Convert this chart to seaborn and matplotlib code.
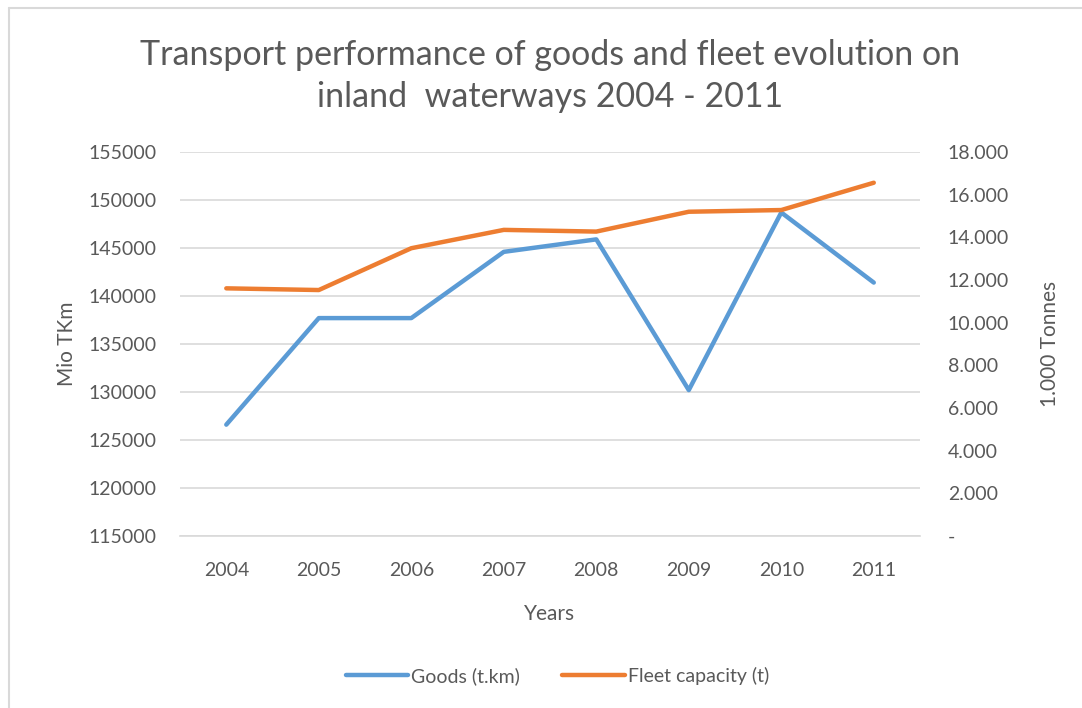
import matplotlib
matplotlib.use("Agg")
import matplotlib.pyplot as plt
from matplotlib.lines import Line2D
from matplotlib.ticker import FixedLocator, FuncFormatter
import seaborn as sns
import pandas as pd

years = ["2004", "2005", "2006", "2007", "2008", "2009", "2010", "2011"]
goods_tkm = [126600, 137700, 137700, 144600, 145900, 130200, 148700, 141400]
fleet_capacity = [11610, 11530, 13490, 14350, 14270, 15200, 15280, 16560]

left_ticks = [115000, 120000, 125000, 130000, 135000, 140000, 145000, 150000, 155000]
right_ticks = [0, 2000, 4000, 6000, 8000, 10000, 12000, 14000, 16000, 18000]

title_text = "Transport performance of goods and fleet evolution on\ninland  waterways 2004 - 2011"
left_label = "Mio TKm"
right_label = "1.000 Tonnes"
x_label = "Years"
goods_name = "Goods (t.km)"
fleet_name = "Fleet capacity (t)"

BLUE = "#5B9BD5"
ORANGE = "#ED7D31"
TEXT = "#595959"
GRID = "#D9D9D9"

sns.set_theme(style="white")
plt.rcParams["font.family"] = ["Lato", "DejaVu Sans"]

df = pd.DataFrame({"year": years, "goods": goods_tkm, "fleet": fleet_capacity})
df["pos"] = range(len(years))

fig = plt.figure(figsize=(10.82, 7.08), dpi=100)
ax = fig.add_axes([0.1664, 0.2429, 0.6839, 0.5424])
ax2 = ax.twinx()

sns.lineplot(data=df, x="pos", y="goods", ax=ax, color=BLUE, linewidth=3.2,
             legend=False, zorder=3)
sns.lineplot(data=df, x="pos", y="fleet", ax=ax2, color=ORANGE, linewidth=3.2,
             legend=False, zorder=3)

ax.set_xlim(-0.5, len(years) - 0.5)
ax.set_ylim(left_ticks[0], left_ticks[-1])
ax2.set_ylim(right_ticks[0], right_ticks[-1])

# category labels centred, tick marks on category boundaries
ax.set_xticks(list(range(len(years))))
ax.set_xticklabels(years)
ax.xaxis.set_minor_locator(FixedLocator([i - 0.5 for i in range(len(years) + 1)]))
ax.tick_params(axis="x", which="major", length=0, pad=19, labelsize=14, labelcolor=TEXT)
ax.tick_params(axis="x", which="minor", length=8, width=1, color=GRID, direction="out")

ax.set_yticks(left_ticks)
ax.tick_params(axis="y", length=0, pad=17, labelsize=14, labelcolor=TEXT)
ax.yaxis.grid(True, color=GRID, linewidth=1.2)
ax.set_axisbelow(True)

ax2.set_yticks(right_ticks)
ax2.yaxis.set_major_formatter(FuncFormatter(
    lambda v, p: "-" if v == 0 else f"{int(v):,}".replace(",", ".")))
ax2.tick_params(axis="y", length=0, pad=20, labelsize=14, labelcolor=TEXT)
ax2.grid(False)

for a in (ax, ax2):
    for side in ("top", "left", "right"):
        a.spines[side].set_visible(False)
ax2.spines["bottom"].set_visible(False)
ax.spines["bottom"].set_color(GRID)
ax.spines["bottom"].set_linewidth(1.2)

ax.set_xlabel(x_label, fontsize=15, color=TEXT, labelpad=18)
ax.set_ylabel(left_label, fontsize=15, color=TEXT, labelpad=8)
ax2.set_ylabel(right_label, fontsize=15, color=TEXT, labelpad=22)

fig.text(0.508, 1 - 76 / 708, title_text, fontsize=24.5, color=TEXT,
         ha="center", va="center", linespacing=1.35)

handles = [Line2D([], [], color=BLUE, linewidth=3.2),
           Line2D([], [], color=ORANGE, linewidth=3.2)]
fig.legend(handles, [goods_name, fleet_name], loc="center", bbox_to_anchor=(0.515, 0.045),
           ncol=2, frameon=False, fontsize=14, labelcolor=TEXT, handlelength=3.2,
           handletextpad=0.15, columnspacing=2.2)

# thin chart border along the top and left edges
fig.add_artist(Line2D([9 / 1082, 1], [1 - 8 / 708, 1 - 8 / 708],
                      transform=fig.transFigure, color="#D9D9D9", linewidth=1.5))
fig.add_artist(Line2D([9 / 1082, 9 / 1082], [0, 1 - 8 / 708],
                      transform=fig.transFigure, color="#D9D9D9", linewidth=1.5))

fig.savefig("out.png", dpi=100, facecolor="white")
